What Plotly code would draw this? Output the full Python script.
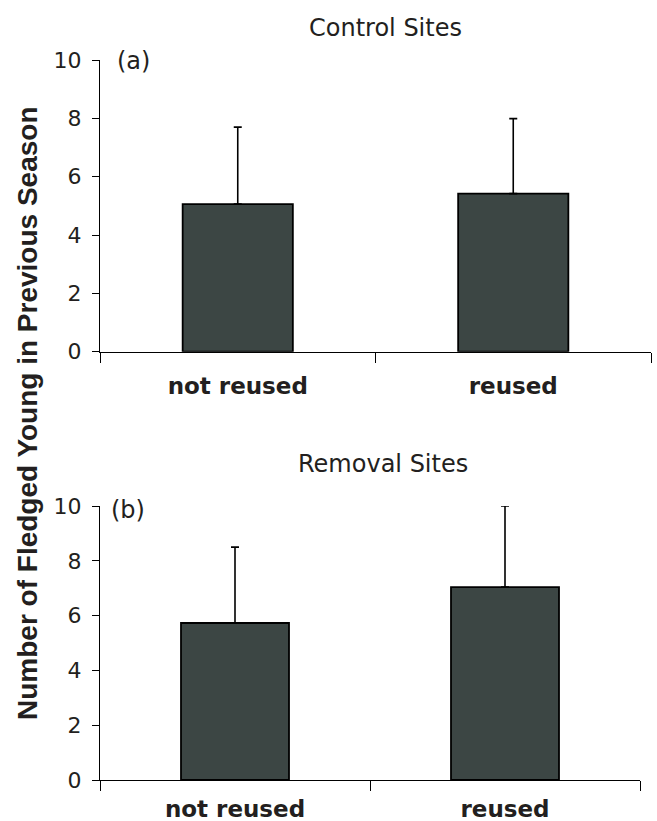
import plotly.graph_objects as go

# Nest-site reuse vs. fledging success in the previous season
categories = ["not reused", "reused"]

control_means = [5.06, 5.42]
control_sd = [2.64, 2.57]

removal_means = [5.73, 7.04]
removal_sd = [2.77, 2.96]

y_ticks = [0, 2, 4, 6, 8, 10]

W, H = 657, 821
BAR_COLOR = "#3c4644"
INK = "#231f20"
SANS = "DejaVu Sans, Arial, sans-serif"
ARIAL = "Liberation Sans, Arial, sans-serif"


def px_x(x):
    return x / W


def px_y(y):
    return 1 - y / H


fig = go.Figure()

for means, sd, ax in [(control_means, control_sd, ""), (removal_means, removal_sd, "2")]:
    fig.add_trace(go.Bar(
        x=categories,
        y=means,
        xaxis="x" + ax,
        yaxis="y" + ax,
        marker=dict(color=BAR_COLOR, line=dict(color="#000000", width=1.8)),
        error_y=dict(type="data", symmetric=False, array=sd, arrayminus=[0, 0],
                     color="#000000", thickness=1.6, width=4),
        cliponaxis=False,
        showlegend=False,
    ))

xcommon = dict(
    type="category",
    range=[-0.5, 1.5],
    tickson="boundaries",
    ticks="outside",
    ticklen=10,
    tickwidth=1.2,
    tickcolor="#000000",
    showline=True,
    linecolor="#000000",
    linewidth=1.2,
    showgrid=False,
    zeroline=False,
    tickfont=dict(family=SANS, size=23, color=INK, weight="bold"),
)
ycommon = dict(
    range=[0, 10],
    tickvals=y_ticks,
    ticks="outside",
    ticklen=7,
    tickwidth=1.2,
    tickcolor="#000000",
    showline=True,
    linecolor="#000000",
    linewidth=1.2,
    showgrid=False,
    zeroline=False,
    ticklabelstandoff=6,
    tickfont=dict(family=SANS, size=22, color=INK),
)

fig.update_layout(
    width=W,
    height=H,
    margin=dict(l=0, r=0, t=0, b=0, autoexpand=False),
    paper_bgcolor="white",
    plot_bgcolor="white",
    bargap=0.6,
    xaxis=dict(xcommon, domain=[px_x(100), px_x(651)], anchor="y", ticklabelstandoff=14),
    yaxis=dict(ycommon, domain=[px_y(351.7), px_y(60)], anchor="x"),
    xaxis2=dict(xcommon, domain=[px_x(100), px_x(640)], anchor="y2", ticklabelstandoff=8),
    yaxis2=dict(ycommon, domain=[px_y(780), px_y(506)], anchor="x2"),
)

annotations = [
    dict(text="Control Sites", x=px_x(385), y=px_y(28), font=dict(family=SANS, size=24, color=INK)),
    dict(text="Removal Sites", x=px_x(383), y=px_y(464), font=dict(family=SANS, size=24, color=INK)),
    dict(text="(a)", x=px_x(133), y=px_y(61), font=dict(family=SANS, size=24, color=INK)),
    dict(text="(b)", x=px_x(128), y=px_y(510), font=dict(family=SANS, size=24, color=INK)),
    dict(text="<b>Number of Fledged Young in Previous Season</b>", x=px_x(28), y=px_y(413),
         textangle=-90, font=dict(family=ARIAL, size=28, color=INK)),
]
for a in annotations:
    fig.add_annotation(dict(a, xref="paper", yref="paper", showarrow=False,
                            xanchor="center", yanchor="middle"))

fig.write_html("out.html")
